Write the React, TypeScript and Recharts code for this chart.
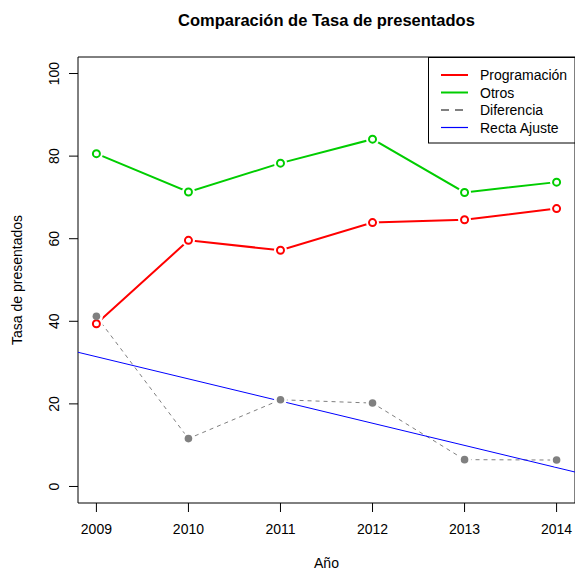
import React from 'react'
import {
  LineChart,
  Line,
  XAxis,
  YAxis,
  ReferenceArea,
} from 'recharts'

const years = [2009, 2010, 2011, 2012, 2013, 2014]
const programacion = [39.4, 59.6, 57.2, 63.9, 64.6, 67.3]
const otros = [80.6, 71.3, 78.3, 84.1, 71.2, 73.7]
const diferencia = [41.2, 11.6, 21.0, 20.2, 6.5, 6.4]
const ajusteYears = [2008.8, 2014.2]
const ajusteValues = [32.5, 3.5]
const yTicks = [0, 20, 40, 60, 80, 100]

const data = years.map((y, i) => ({
  year: y,
  prog: programacion[i],
  otros: otros[i],
  dif: diferencia[i],
}))
const ajuste = ajusteYears.map((y, i) => ({ year: y, fit: ajusteValues[i] }))

const FONT = '"Liberation Sans", Arial, Helvetica, sans-serif'

// disco blanco para cortar la linea alrededor del punto (type = "b" de R)
const gapDot = (props: any) => {
  const { cx, cy, index } = props
  return <circle key={`gap-${index}`} cx={cx} cy={cy} r={6.5} fill="#fff" />
}

const hollowDot = (color: string) => (props: any) => {
  const { cx, cy, index } = props
  return (
    <g key={`d-${color}-${index}`}>
      <circle cx={cx} cy={cy} r={6.5} fill="#fff" />
      <circle cx={cx} cy={cy} r={3.5} fill="none" stroke={color} strokeWidth={2} />
    </g>
  )
}

const solidDot = (props: any) => {
  const { cx, cy, index } = props
  return <circle key={`g-${index}`} cx={cx} cy={cy} r={3.8} fill="#808080" />
}

const YTick = (props: any) => {
  const { y, payload } = props
  return (
    <text
      x={59}
      y={y}
      transform={`rotate(-90, 59, ${y})`}
      textAnchor="middle"
      fontSize={14}
      fontFamily={FONT}
      fill="#000"
    >
      {payload.value}
    </text>
  )
}

const legendItems = [
  { name: 'Programación', color: '#FF0000', width: 2, dash: undefined },
  { name: 'Otros', color: '#00CD00', width: 2, dash: undefined },
  { name: 'Diferencia', color: '#808080', width: 2, dash: '8 6' },
  { name: 'Recta Ajuste', color: '#0000FF', width: 1.2, dash: undefined },
]

export default function App() {
  return (
    <div style={{ position: 'absolute', top: 0, left: 0, width: 575, height: 570, background: '#fff' }}>
      <LineChart
        width={575}
        height={570}
        data={data}
        margin={{ top: 57, right: 0, bottom: 0, left: 0 }}
      >
        <XAxis
          dataKey="year"
          type="number"
          domain={[2008.8, 2014.2]}
          ticks={years}
          allowDataOverflow
          axisLine={false}
          tickLine={{ stroke: '#000' }}
          tickSize={9}
          tickMargin={12}
          height={67}
          tick={{ fontSize: 14, fill: '#000', fontFamily: FONT }}
        />
        <YAxis
          type="number"
          domain={[-4, 104]}
          ticks={yTicks}
          allowDataOverflow
          axisLine={false}
          tickLine={{ stroke: '#000' }}
          tickSize={9}
          width={78}
          tick={<YTick />}
        />
        <ReferenceArea
          x1={2008.8}
          x2={2014.2}
          y1={-4}
          y2={104}
          fill="none"
          stroke="#000"
          strokeWidth={1}
          ifOverflow="visible"
        />
        <Line
          dataKey="dif"
          stroke="#808080"
          strokeWidth={1}
          strokeDasharray="4 4"
          dot={gapDot}
          isAnimationActive={false}
        />
        <Line
          dataKey="prog"
          stroke="#FF0000"
          strokeWidth={2}
          dot={hollowDot('#FF0000')}
          isAnimationActive={false}
        />
        <Line
          dataKey="otros"
          stroke="#00CD00"
          strokeWidth={2}
          dot={hollowDot('#00CD00')}
          isAnimationActive={false}
        />
        <Line
          dataKey="dif"
          stroke="none"
          dot={solidDot}
          legendType="none"
          isAnimationActive={false}
        />
        <Line
          data={ajuste}
          dataKey="fit"
          stroke="#0000FF"
          strokeWidth={1}
          dot={false}
          isAnimationActive={false}
        />
        <g transform="translate(428, 57)">
          <rect x={0.5} y={0.5} width={152} height={85.5} fill="#fff" stroke="#000" />
          {legendItems.map((it, i) => (
            <g key={it.name}>
              <line
                x1={13}
                x2={40}
                y1={18 + i * 17.5}
                y2={18 + i * 17.5}
                stroke={it.color}
                strokeWidth={it.width}
                strokeDasharray={it.dash}
              />
              <text x={52} y={23 + i * 17.5} fontSize={14} fontFamily={FONT} fill="#000">
                {it.name}
              </text>
            </g>
          ))}
        </g>
        <text x={326.5} y={26} textAnchor="middle" fontSize={16.5} fontWeight="bold" fontFamily={FONT} fill="#000">
          Comparación de Tasa de presentados
        </text>
        <text x={326.5} y={568} textAnchor="middle" fontSize={14} fontFamily={FONT} fill="#000">
          Año
        </text>
        <text
          x={22}
          y={280}
          transform="rotate(-90, 22, 280)"
          textAnchor="middle"
          fontSize={14}
          fontFamily={FONT}
          fill="#000"
        >
          Tasa de presentados
        </text>
      </LineChart>
    </div>
  )
}
